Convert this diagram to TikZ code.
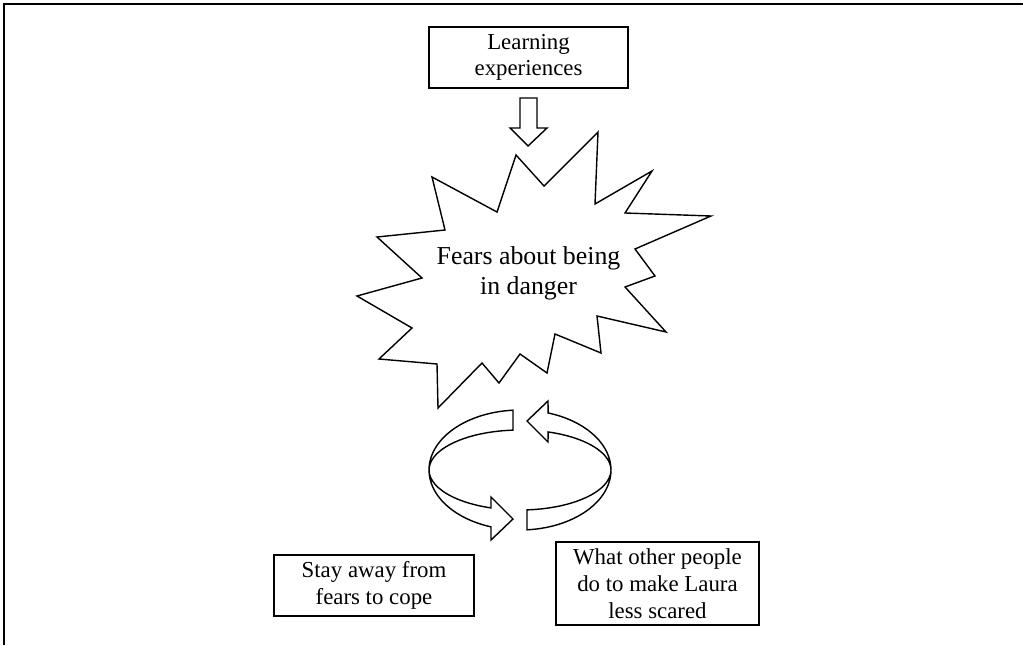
\documentclass[tikz,border=0pt]{standalone}
\usepackage{fontspec}
\setmainfont{Liberation Serif}
\tikzset{
  textbox/.style={draw,thick,rectangle,align=center,inner sep=0pt,font=\fontsize{13}{15.2}\selectfont},
  outline/.style={draw,thick,fill=white}
}
\begin{document}
\begin{tikzpicture}[x=0.02cm,y=0.02cm]
\useasboundingbox (0,0) rectangle (1023,-645);
% frame
\draw[line width=1pt] (4,-645) -- (4,-4) -- (1023,-4);
% boxes
\node[textbox,minimum width=3.98cm,minimum height=1.22cm,font=\fontsize{13}{14.8}\selectfont] (learn) at (528.5,-57.5) {Learning\\experiences};
\node[textbox,minimum width=4cm,minimum height=1.22cm] (stay) at (374,-585.5) {Stay away from\\fears to cope};
\node[textbox,minimum width=4.06cm,minimum height=1.66cm] (others) at (657.5,-583.5) {What other people\\do to make Laura\\less scared};
% down arrow
\draw[outline] (520,-98) -- (537,-98) -- (537,-128) -- (547,-128) -- (528,-146) -- (510,-128) -- (520,-128) -- cycle;
% starburst
\draw[outline] (432,-177) -- (497,-212) -- (516,-155) -- (544,-186) -- (598,-132) -- (595,-204)
  -- (652,-171) -- (625,-213) -- (711,-216) -- (635,-249) -- (655,-276) -- (625,-287)
  -- (666,-332) -- (597,-316) -- (601,-353) -- (555,-334) -- (547,-373) -- (520,-354)
  -- (499,-383) -- (482,-363) -- (438,-408) -- (437,-364) -- (379,-359) -- (412,-328)
  -- (357,-296) -- (422,-278) -- (377,-237) -- (445,-230) -- cycle;
\node[align=center,font=\fontsize{14.7}{17}\selectfont] (fears) at (528.5,-273) {Fears about being\\in danger};
% ring arrows
\coordinate (ring) at (520,-470);
\draw[outline] ([shift={(94.4:1.82cm and 1.2cm)}]ring) arc[start angle=94.4,end angle=251.4,x radius=1.82cm,y radius=1.2cm]
  -- (491,-540) -- (513,-519) -- (491,-497)
  -- ([shift={(251.4:1.82cm and 0.8cm)}]ring) arc[start angle=251.4,end angle=94.4,x radius=1.82cm,y radius=0.8cm] -- cycle;
\draw[outline] ([shift={(-85.6:1.82cm and 1.2cm)}]ring) arc[start angle=-85.6,end angle=72,x radius=1.82cm,y radius=1.2cm]
  -- (548,-401) -- (527,-421) -- (548,-442)
  -- ([shift={(72:1.82cm and 0.8cm)}]ring) arc[start angle=72,end angle=-85.6,x radius=1.82cm,y radius=0.8cm] -- cycle;
\end{tikzpicture}
\end{document}
